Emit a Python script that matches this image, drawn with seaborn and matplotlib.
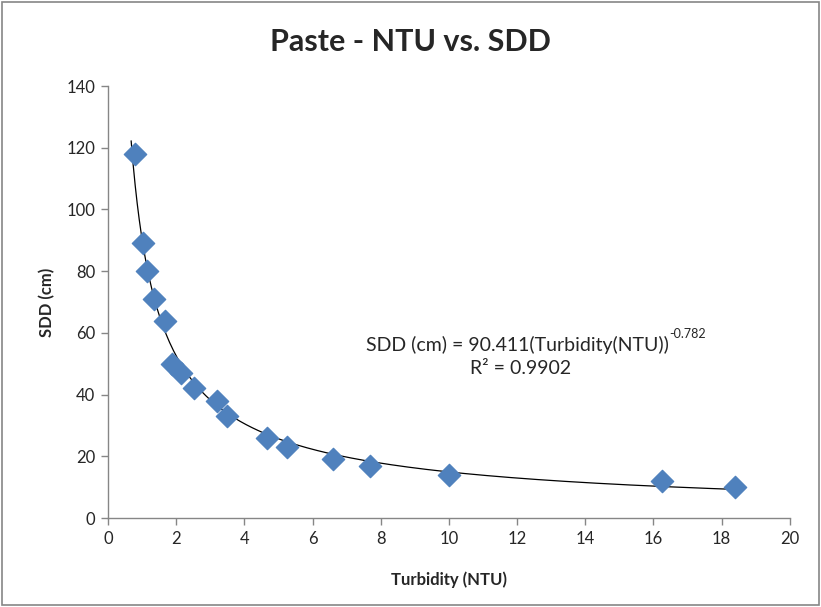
import numpy as np
import pandas as pd
import seaborn as sns
import matplotlib.pyplot as plt
from matplotlib.patches import Rectangle

# turbidity (NTU) vs Secchi disk depth (cm)
turbidity = [0.79, 1.03, 1.14, 1.35, 1.67, 1.88, 2.14, 2.52, 3.2, 3.49,
             4.66, 5.25, 6.6, 7.68, 10.0, 16.25, 18.4]
sdd = [118, 89, 80, 71, 64, 50, 47, 42, 38, 33, 26, 23, 19, 17, 14, 12, 10]

# power trendline shown on the chart
coef_a = 90.411
coef_b = -0.782

df = pd.DataFrame({"Turbidity (NTU)": turbidity, "SDD (cm)": sdd})

sns.set_style("white")
plt.rcParams['font.family'] = ['Lato', 'DejaVu Sans']

fig = plt.figure(figsize=(8.21, 6.07), dpi=100)
ax = fig.add_axes([0.1315, 0.1466, 0.8305, 0.7117])

xs = np.linspace(0.68, max(turbidity), 300)
ax.plot(xs, coef_a * xs ** coef_b, color="black", lw=0.9, zorder=1)

sns.scatterplot(data=df, x="Turbidity (NTU)", y="SDD (cm)", marker="D",
                s=130, color="#4F81BD", edgecolor="#4F81BD", ax=ax, zorder=2)

ax.set_xlim(0, 20)
ax.set_ylim(0, 140)
ax.set_xticks(range(0, 21, 2))
ax.set_yticks(range(0, 141, 20))
for side in ["top", "right"]:
    ax.spines[side].set_visible(False)
for side in ["left", "bottom"]:
    ax.spines[side].set_color("#868686")
    ax.spines[side].set_linewidth(1)
ax.tick_params(axis="both", length=5, width=1, color="#868686",
               direction="out", labelsize=12, pad=4, bottom=True, left=True)
ax.set_xlabel("Turbidity (NTU)", fontsize=12, fontweight="bold", labelpad=18)
ax.set_ylabel("SDD (cm)", fontsize=12, fontweight="bold", labelpad=8)

fig.text(0.5, 0.93, "Paste - NTU vs. SDD", ha="center", va="center",
         fontsize=22, fontweight="bold")

eq = ax.text(12.02, 56.1, "SDD (cm) = 90.411(Turbidity(NTU))",
             ha="center", va="center", fontsize=14)
ax.annotate("-0.782", xy=(1, 0.78), xycoords=eq, ha="left", va="bottom",
            fontsize=9)
ax.text(12.1, 48.3, "R\u00b2 = 0.9902", ha="center", va="center", fontsize=14)

fig.patches.append(Rectangle((0.002, 0.003), 0.996, 0.994,
                             transform=fig.transFigure, fill=False,
                             edgecolor="#868686", lw=1.2))

plt.savefig("out.png", dpi=100)
